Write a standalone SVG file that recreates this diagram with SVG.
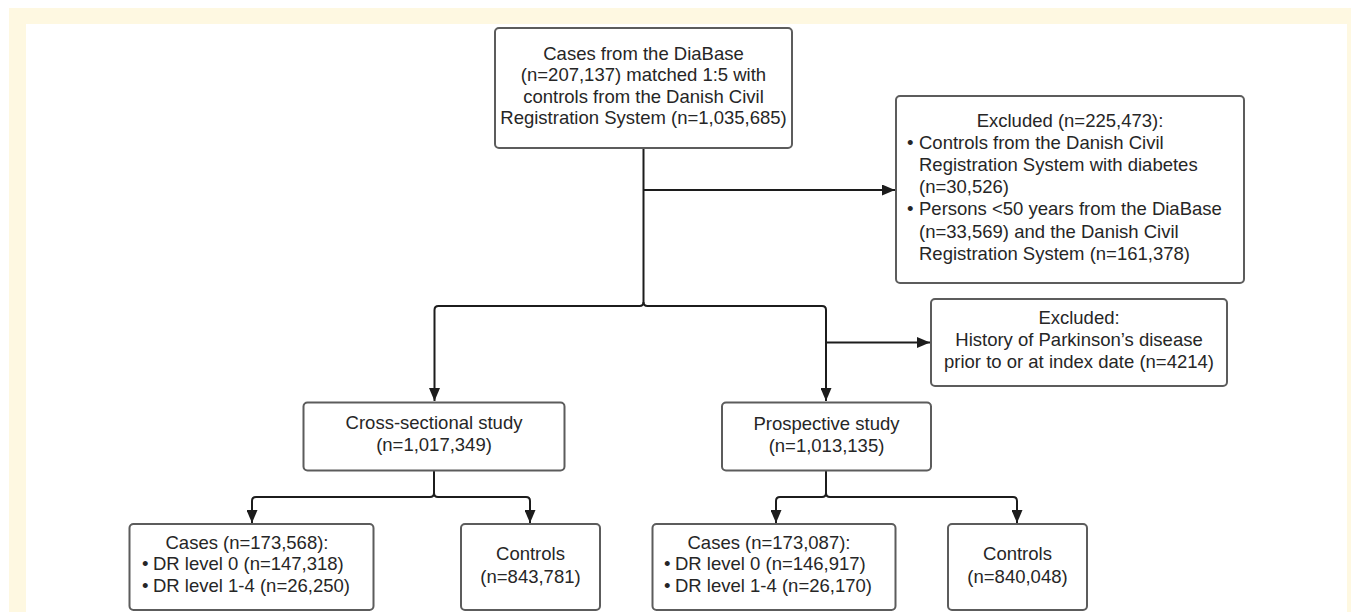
<svg xmlns="http://www.w3.org/2000/svg" width="1351" height="612" viewBox="0 0 1351 612">
<style>
.box{fill:#ffffff;stroke:#5c5c5c;stroke-width:2}
.con{fill:none;stroke:#1c1c1c;stroke-width:2}
text{font-family:"Liberation Sans",Arial,sans-serif;font-size:18.5px;fill:#262626}
.c{text-anchor:middle}
</style>
<defs>
<marker id="arr" markerUnits="userSpaceOnUse" markerWidth="14" markerHeight="11" viewBox="0 0 14 11" refX="13" refY="5.5" orient="auto">
<path d="M0,0 L13,5.5 L0,11 z" fill="#1c1c1c"/>
</marker>
</defs>
<rect x="0" y="0" width="1351" height="612" fill="#ffffff"/>
<rect x="9" y="8" width="1342" height="604" fill="#fef8e1"/>
<rect x="26" y="24" width="1321" height="588" fill="#ffffff"/>

<g id="connectors">
<path class="con" d="M643.5,148 V302 Q643.5,306 639.5,306 H438.5 Q434.5,306 434.5,310 V401" marker-end="url(#arr)"/>
<path class="con" d="M643.5,302 Q643.5,306 647.5,306 H822 Q826,306 826,310 V401" marker-end="url(#arr)"/>
<path class="con" d="M643.5,190 H895" marker-end="url(#arr)"/>
<path class="con" d="M826,342.5 H930" marker-end="url(#arr)"/>
<path class="con" d="M434,471 V493 Q434,497 430,497 H256 Q252,497 252,501 V523" marker-end="url(#arr)"/>
<path class="con" d="M434,493 Q434,497 438,497 H526 Q530,497 530,501 V523" marker-end="url(#arr)"/>
<path class="con" d="M826,471 V493 Q826,497 822,497 H780 Q776,497 776,501 V523" marker-end="url(#arr)"/>
<path class="con" d="M826,493 Q826,497 830,497 H1013 Q1017,497 1017,501 V523" marker-end="url(#arr)"/>
</g>

<g id="source">
<rect class="box" x="495" y="28" width="297" height="120" rx="4"/>
<text class="c" x="643.5" y="59.5">Cases from the DiaBase</text>
<text class="c" x="643.5" y="81">(n=207,137) matched 1:5 with</text>
<text class="c" x="643.5" y="102.5">controls from the Danish Civil</text>
<text class="c" x="643.5" y="124">Registration System (n=1,035,685)</text>
</g>

<g id="excluded1">
<rect class="box" x="896" y="96" width="348" height="187" rx="4"/>
<text class="c" x="1070" y="126.5">Excluded (n=225,473):</text>
<text y="148.7"><tspan x="907">•</tspan><tspan x="919">Controls from the Danish Civil</tspan></text>
<text x="919" y="170.9">Registration System with diabetes</text>
<text x="919" y="193.1">(n=30,526)</text>
<text y="215.3"><tspan x="907">•</tspan><tspan x="919">Persons &lt;50 years from the DiaBase</tspan></text>
<text x="919" y="237.5">(n=33,569) and the Danish Civil</text>
<text x="919" y="259.7">Registration System (n=161,378)</text>
</g>

<g id="excluded2">
<rect class="box" x="931" y="299" width="296" height="87" rx="4"/>
<text class="c" x="1079" y="323.5">Excluded:</text>
<text class="c" x="1079" y="345.5">History of Parkinson’s disease</text>
<text class="c" x="1079" y="367.5">prior to or at index date (n=4214)</text>
</g>

<g id="crosssectional">
<rect class="box" x="303.5" y="402.5" width="261" height="68" rx="4"/>
<text class="c" x="434" y="429">Cross-sectional study</text>
<text class="c" x="434" y="451">(n=1,017,349)</text>
</g>

<g id="prospective">
<rect class="box" x="722" y="402.5" width="209" height="68" rx="4"/>
<text class="c" x="826.5" y="429.5">Prospective study</text>
<text class="c" x="826.5" y="451.5">(n=1,013,135)</text>
</g>

<g id="cases1">
<rect class="box" x="129.5" y="524" width="244" height="86" rx="4"/>
<text class="c" x="247" y="548.5">Cases (n=173,568):</text>
<text y="570"><tspan x="142">•</tspan><tspan x="153">DR level 0 (n=147,318)</tspan></text>
<text y="592"><tspan x="142">•</tspan><tspan x="153">DR level 1-4 (n=26,250)</tspan></text>
</g>

<g id="controls1">
<rect class="box" x="461" y="524" width="139" height="86" rx="4"/>
<text class="c" x="530.5" y="560">Controls</text>
<text class="c" x="530.5" y="582.5">(n=843,781)</text>
</g>

<g id="cases2">
<rect class="box" x="652.5" y="524" width="243" height="86" rx="4"/>
<text class="c" x="769" y="548.5">Cases (n=173,087):</text>
<text y="570"><tspan x="664">•</tspan><tspan x="675">DR level 0 (n=146,917)</tspan></text>
<text y="592"><tspan x="664">•</tspan><tspan x="675">DR level 1-4 (n=26,170)</tspan></text>
</g>

<g id="controls2">
<rect class="box" x="948" y="524" width="139" height="86" rx="4"/>
<text class="c" x="1017.5" y="560">Controls</text>
<text class="c" x="1017.5" y="582.5">(n=840,048)</text>
</g>
</svg>
